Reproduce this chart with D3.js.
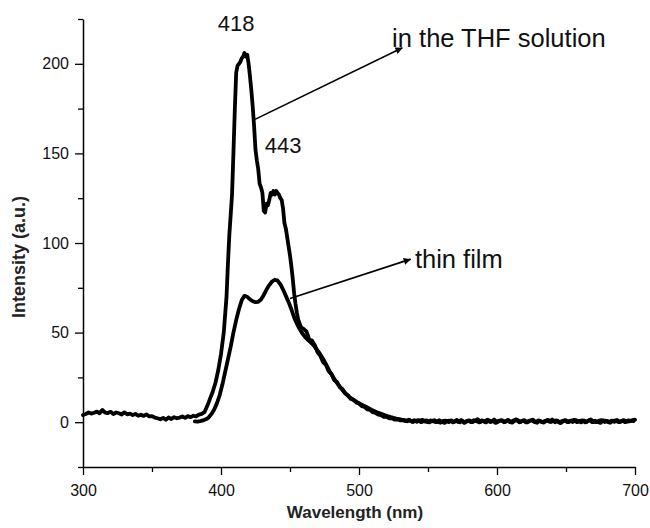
<!DOCTYPE html>
<html><head><meta charset="utf-8">
<script src="https://cdn.jsdelivr.net/npm/d3@7"></script>
<style>body{margin:0;background:#fff}svg{display:block}text{font-family:"Liberation Sans",Arial,Helvetica,sans-serif}</style>
</head><body><svg id="c" width="650" height="528"></svg>
<script>
// ---------- DATA ----------
const xDomain = [300, 700];
const yDomain = [-25, 225];
const xMajorTicks = [300, 400, 500, 600, 700];
const xMinorTicks = [350, 450, 550, 650];
const yMajorTicks = [0, 50, 100, 150, 200];
const yMinorTicks = [-25, 25, 75, 125, 175, 225];
const xTitle = "Wavelength (nm)";
const yTitle = "Intensity (a.u.)";

// THF solution: baseline 300-388 (every 2 nm)
const solutionBaseStart = 300;
const solutionBase = [4.0,4.6,5.4,4.8,5.3,5.9,5.0,6.8,5.4,5.1,5.8,4.6,5.4,5.0,4.3,5.5,4.4,4.8,4.0,4.6,
  3.6,4.2,3.5,4.4,3.2,3.4,2.6,2.2,1.6,2.4,1.4,2.6,1.8,2.8,2.2,2.6,3.2,2.4,3.4,2.8,
  3.6,3.2,4.2,4.6,5.6];
// THF solution: emission band
const solutionWl = [390,392,394,396,398,400,402,404,405,406,408,
  409,410,411,412,413,414,415,416,417,418,419,420,421,422,423,424,425,426,427,428,
  429,430,431,432,433,434,435,436,437,438,439,440,441,442,443,444,445,446,447,448,
  449,450,451,452,453,454,455,456,457,458,
  460,462,464,466,468,470,472,474,476,478,480,482,484,486,488,490,492,494,496,498,
  500,502,504,506,508,510,512,514,516,518,520,522,524,526,528,530];
const solutionInt = [9,13,17,22,29,38,50,70,88,104,127,
  150,174,195,199,200,201,203,204,206,204,205,200,193,185,176,165,152,146,141,133,
  131,128,118,117,122,121,124,128,127,129,127,129,128,127,125,124,119,111,108,103,
  98,93,87,80,72,66,61,57,55,53,
  52,50.5,46,45.5,43,39,37,33.5,32,28.5,27,23.5,22.5,19.5,18.5,16,15,13,12.5,11,
  10.4,9,8.6,7.2,6.8,5.6,5.2,4.2,4.0,3.0,3.0,2.2,2.2,1.4,1.6,1.0];
// THF solution: tail 532-700 (every 2 nm)
const solutionTailStart = 532;
const solutionTail = [1.0,0.6,1.4,0.4,1.1,0.2,0.9,1.3,0.3,0.1,1.0,0.4,0.0,1.1,0.2,-0.4,0.7,0.9,-0.1,0.8,
  0.1,1.2,-0.3,0.6,1.0,0.0,0.8,1.7,0.1,0.9,-0.1,1.1,0.3,1.5,0.0,0.8,1.0,0.1,1.3,0.2,
  0.9,1.6,0.0,0.7,1.1,-0.1,0.8,1.4,0.1,1.0,0.2,-0.2,0.9,0.3,1.5,0.0,0.8,-0.5,0.6,1.1,
  0.1,0.9,1.3,0.0,0.7,1.0,-0.1,0.8,1.6,0.2,0.0,0.9,1.1,0.1,0.7,-0.3,0.8,1.0,0.0,0.6,
  1.2,0.3,0.5,1.1,1.4];

// Thin film
const filmWl = [381,383,385,387,389,391,393,395,397,399,401,403,405,407,409,411,413,415,417,419,
  421,423,425,427,429,431,433,435,437,439,441,443,445,447,449,451,453,455,457,459,
  461,463,465,467,469,471,473,475,477,479,481,483,485,487,489,491,493,495,497,499,
  501,503,505,507,509,511,513,515,517,519,521,523,525,527,529,531];
const filmInt = [0.5,0.3,0.6,1.0,1.6,2.6,4.5,7,10.5,15,21,28,35,42,50,57,63,68,70.5,70,
  68.5,67.5,67,67.2,68.5,71,74,76.5,78.5,79.5,79,77,74,70.5,67,63,58.5,55,52,49.5,
  47.5,46,44.5,43,41,39,36.5,34,31,28,25.5,23,21,19,17,15.5,14,13,12,11,
  10.2,9.4,8.6,7.8,7,6.3,5.6,5,4.4,3.8,3.3,2.8,2.4,2,1.7,1.4];
const filmTailStart = 533;
const filmTail = [1.2,0.5,1.1,0.1,0.8,1.2,0.0,0.7,1.0,-0.1,0.8,1.1,0.1,-0.3,0.7,0.9,0.0,1.0,0.2,1.3,
  0.0,0.8,-0.2,0.9,0.1,1.1,0.7,-0.1,1.0,0.2,1.4,0.1,0.8,-0.4,0.7,1.1,0.0,0.9,0.2,-0.2,
  0.8,1.2,0.1,1.0,-0.1,0.7,1.1,0.2,-0.3,0.9,0.0,0.8,1.3,0.1,0.7,1.0,-0.2,0.6,1.1,0.0,
  0.8,0.1,1.2,0.7,-0.1,0.9,0.2,1.1,0.0,0.8,0.1,-0.4,1.0,0.7,-0.1,0.9,0.2,1.2,0.1,0.8,
  0.0,1.0,0.7,0.6];

// Annotations (data coordinates)
const peakLabels = [{text:"418", x:411, y:218.5}, {text:"443", x:445, y:150.5}];
const seriesLabels = [
  {text:"in the THF solution", x:524, y:209.5, fromX:424.6, fromY:169, toX:531.5, toY:209},
  {text:"thin film", x:540.5, y:86, fromX:450, fromY:69, toX:537.5, toY:91}
];

// ---------- DRAW ----------
const svg = d3.select("#c");
const x = d3.scaleLinear().domain(xDomain).range([83, 635]);
const y = d3.scaleLinear().domain(yDomain).range([467, 19]);

function seg(start, vals){ return vals.map((v,i)=>[start+2*i, v]); }
const solution = seg(solutionBaseStart, solutionBase)
  .concat(solutionWl.map((w,i)=>[w, solutionInt[i]]))
  .concat(seg(solutionTailStart, solutionTail));
const film = filmWl.map((w,i)=>[w, filmInt[i]]).concat(seg(filmTailStart, filmTail));

const line = d3.line().x(d=>x(d[0])).y(d=>y(d[1]));
[film, solution].forEach(s=>{
  svg.append("path").attr("d", line(s)).attr("fill","none").attr("stroke","#000")
    .attr("stroke-width",3.8).attr("stroke-linejoin","round").attr("stroke-linecap","round");
});

// axes
const xAxis = svg.append("g").attr("transform","translate(0,467)")
  .call(d3.axisBottom(x).tickValues(xMajorTicks).tickSize(8).tickSizeOuter(0).tickFormat(d3.format("d")));
svg.append("g").attr("transform","translate(0,467)")
  .call(d3.axisBottom(x).tickValues(xMinorTicks).tickSize(5).tickFormat("")).select(".domain").remove();
const yAxis = svg.append("g").attr("transform","translate(83,0)")
  .call(d3.axisLeft(y).tickValues(yMajorTicks).tickSize(8).tickSizeOuter(0).tickFormat(d3.format("d")));
svg.append("g").attr("transform","translate(83,0)")
  .call(d3.axisLeft(y).tickValues(yMinorTicks).tickSize(5).tickFormat("")).select(".domain").remove();
svg.selectAll(".domain").attr("stroke-width",1.5);
svg.selectAll(".tick line").attr("stroke-width",1.3);
xAxis.selectAll("text").attr("font-size",16).attr("font-family","Liberation Sans, Arial").attr("dy","1.1em").attr("fill","#111");
yAxis.selectAll("text").attr("font-size",16).attr("font-family","Liberation Sans, Arial").attr("x",-14).attr("fill","#111");

svg.append("text").attr("x",355).attr("y",518).attr("text-anchor","middle")
  .attr("font-size",17).attr("font-weight","bold").attr("fill","#222").text(xTitle);
svg.append("text").attr("transform","translate(25,257) rotate(-90)").attr("text-anchor","middle")
  .attr("font-size",18).attr("font-weight","bold").attr("fill","#222").text(yTitle);

// peak labels
peakLabels.forEach(p=>{
  svg.append("text").attr("x",x(p.x)).attr("y",y(p.y)).attr("text-anchor","middle")
    .attr("font-size",22).attr("fill","#111").text(p.text);
});

// arrows
svg.append("defs").append("marker").attr("id","ah").attr("viewBox","0 0 10 10")
  .attr("refX",10).attr("refY",5).attr("markerWidth",9).attr("markerHeight",7)
  .attr("markerUnits","userSpaceOnUse").attr("orient","auto")
  .append("path").attr("d","M0,0L10,5L0,10Z").attr("fill","#000");
seriesLabels.forEach(s=>{
  svg.append("line").attr("x1",x(s.fromX)).attr("y1",y(s.fromY)).attr("x2",x(s.toX)).attr("y2",y(s.toY))
    .attr("stroke","#000").attr("stroke-width",1.6).attr("marker-end","url(#ah)");
  svg.append("text").attr("x",x(s.x)).attr("y",y(s.y)).attr("font-size",25.5).attr("fill","#111").text(s.text);
});
</script></body></html>
